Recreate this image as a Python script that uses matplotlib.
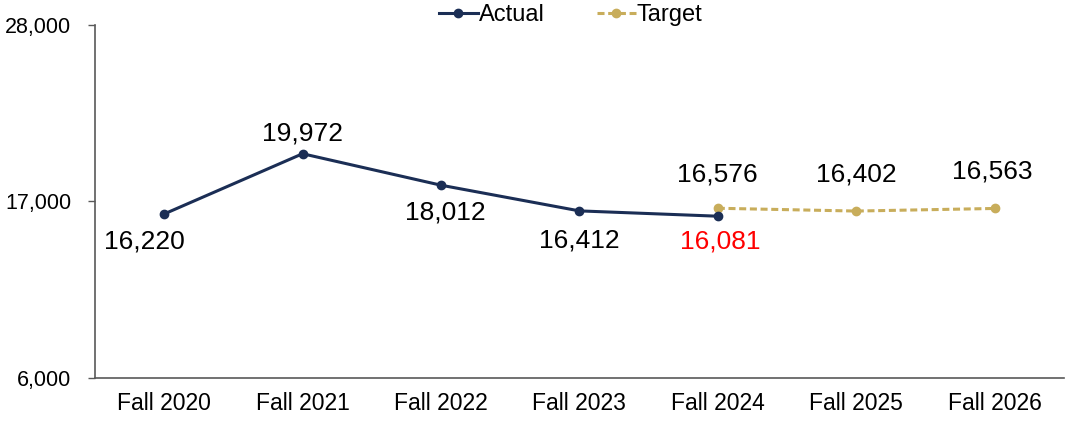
import matplotlib
matplotlib.use("Agg")
import matplotlib.pyplot as plt

plt.rcParams['font.family'] = ['Liberation Sans', 'DejaVu Sans']

categories = ["Fall 2020", "Fall 2021", "Fall 2022", "Fall 2023", "Fall 2024", "Fall 2025", "Fall 2026"]
actual_values = [16220, 19972, 18012, 16412, 16081]
target_categories = ["Fall 2024", "Fall 2025", "Fall 2026"]
target_values = [16576, 16402, 16563]
y_ticks = [6000, 17000, 28000]

navy = "#1B2E55"
gold = "#C8AD5B"

fig = plt.figure(figsize=(10.67, 4.21), dpi=100)
ax = fig.add_axes([0.089, 0.102, 0.908, 0.839])

xa = [categories.index(c) for c in categories[:len(actual_values)]]
xt = [categories.index(c) for c in target_categories]

ax.plot(xa, actual_values, color=navy, lw=2.2, marker='o', ms=6, label="Actual", zorder=3)
ax.plot(xt, target_values, color=gold, lw=2.2, ls=(0, (2.3, 1.2)), marker='o', ms=6, label="Target", zorder=2)

ax.set_xlim(-0.5, len(categories) - 0.5)
ax.set_ylim(6000, 28000)
ax.set_yticks(y_ticks)
ax.set_yticklabels([f"{v:,}" for v in y_ticks], fontsize=15.5)
ax.set_xticks(range(len(categories)))
ax.set_xticklabels(categories, fontsize=16.5)
ax.tick_params(axis='x', length=0, pad=10)
ax.tick_params(axis='y', length=5, width=1, color="#595959", pad=12)

for s in ['top', 'right']:
    ax.spines[s].set_visible(False)
for s in ['left', 'bottom']:
    ax.spines[s].set_color("#595959")
    ax.spines[s].set_linewidth(1.2)

fs = 19
# actual labels (offsets in points)
act_offsets = [(-14, -19.5), (0, 14.5), (3, -19.5), (0, -21), (2, -18.5)]
for i, (x, v) in enumerate(zip(xa, actual_values)):
    dx, dy = act_offsets[i]
    col = 'red' if i == len(actual_values) - 1 else 'black'
    ax.annotate(f"{v:,}", (x, v), xytext=(dx, dy), textcoords='offset points',
                ha='center', va='center', fontsize=fs, color=col)
tgt_offsets = [(0, 24), (0, 26), (-2, 26.5)]
for i, (x, v) in enumerate(zip(xt, target_values)):
    dx, dy = tgt_offsets[i]
    ax.annotate(f"{v:,}", (x, v), xytext=(dx, dy), textcoords='offset points',
                ha='center', va='center', fontsize=fs, color='black')

leg = ax.legend(loc='center', bbox_to_anchor=(0.491, 1.028), ncol=2, frameon=False,
                fontsize=17, handlelength=1.65, handletextpad=0.05, columnspacing=2.2)

fig.savefig("out.png", dpi=100)
